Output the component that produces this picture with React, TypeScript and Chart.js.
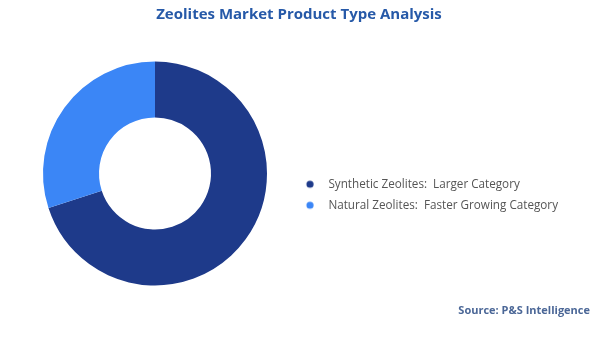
import { useEffect, useRef } from "react";
import { Chart, registerables } from "chart.js";

Chart.register(...registerables);

const titleText = "Zeolites Market Product Type Analysis";
const sourceText = "Source: P&S Intelligence";
const categories = ["Synthetic Zeolites", "Natural Zeolites"];
const descriptors = ["Larger Category", "Faster Growing Category"];
const shares = [70, 30];
const sliceColors = ["#1e3a8a", "#3b86f6"];

const FONT = '"Open Sans", "Noto Sans", sans-serif';
const LEGEND_SIZE = 11.7;
const LEGEND_PAD = 9.3;

function makeDot(color: string, offset: number) {
  const c = document.createElement("canvas");
  c.width = 24;
  c.height = 12;
  const g = c.getContext("2d")!;
  g.fillStyle = color;
  g.beginPath();
  g.arc(12 + offset, 6, 3.6, 0, Math.PI * 2);
  g.fill();
  return c;
}

export default function App() {
  const ref = useRef<HTMLCanvasElement | null>(null);

  useEffect(() => {
    if (!ref.current) return;
    const labels = categories.map((c, i) => `${c}:  ${descriptors[i]}`);

    // measure legend text to place the legend like the reference
    const m = document.createElement("canvas").getContext("2d")!;
    m.font = `normal ${LEGEND_SIZE}px ${FONT}`;
    const textW = Math.max(...labels.map((t) => m.measureText(t).width));
    const legendLeft = 280;
    const legendRight = 568;
    const boxW = legendRight - legendLeft - LEGEND_PAD - LEGEND_SIZE / 2 - 10 - textW;
    const dotOffset = 310 - (legendLeft + LEGEND_PAD + boxW / 2);
    const dots = sliceColors.map((c) => makeDot(c, dotOffset));

    const sourcePlugin = {
      id: "sourceNote",
      afterDraw(chart: Chart) {
        const ctx = chart.ctx;
        ctx.save();
        ctx.font = `bold 11px ${FONT}`;
        ctx.fillStyle = "#4b6797";
        ctx.textAlign = "right";
        ctx.textBaseline = "middle";
        ctx.fillText(sourceText, 590, 310.5);
        ctx.restore();
      },
    };

    const chart = new Chart(ref.current, {
      type: "doughnut",
      data: {
        labels,
        datasets: [
          {
            data: shares,
            backgroundColor: sliceColors,
            borderWidth: 0,
            hoverOffset: 0,
          },
        ],
      },
      options: {
        responsive: false,
        animation: false,
        cutout: "50%",
        layout: { padding: { left: 30, right: 32, top: 0, bottom: 51.5 } },
        events: [],
        plugins: {
          tooltip: { enabled: false },
          title: {
            display: true,
            text: titleText,
            color: "#2659a8",
            font: { family: FONT, size: 15, weight: "bold" },
            padding: { top: 5.5, bottom: 38 },
          },
          legend: {
            display: true,
            position: "right",
            maxWidth: 400,
            title: {
              display: true,
              text: "",
              font: { family: FONT, size: 12 },
              padding: { top: 0, bottom: 89.6 },
            },
            labels: {
              usePointStyle: true,
              pointStyleWidth: boxW,
              padding: LEGEND_PAD,
              color: "#555555",
              font: { family: FONT, size: LEGEND_SIZE },
              generateLabels: () =>
                labels.map((t, i) => ({
                  text: t,
                  fillStyle: sliceColors[i],
                  strokeStyle: sliceColors[i],
                  lineWidth: 0,
                  pointStyle: dots[i],
                  hidden: false,
                  index: i,
                  fontColor: "#555555",
                })),
            },
          },
        },
      },
      plugins: [sourcePlugin],
    });
    return () => chart.destroy();
  }, []);

  return (
    <div style={{ position: "absolute", left: 0, top: 0, width: 600, height: 337, background: "#ffffff" }}>
      <canvas ref={ref} width={600} height={337} style={{ display: "block", width: 600, height: 337 }} />
    </div>
  );
}
